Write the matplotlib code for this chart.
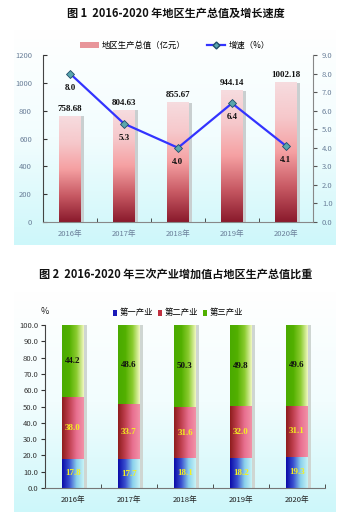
import numpy as np
import matplotlib
matplotlib.use("Agg")
import matplotlib.pyplot as plt
from matplotlib.colors import LinearSegmentedColormap
from matplotlib.patches import Patch, Rectangle
from matplotlib.lines import Line2D

plt.rcParams['font.family'] = ['Noto Sans CJK SC', 'DejaVu Sans']

# ---------------- data ----------------
years = ["2016年", "2017年", "2018年", "2019年", "2020年"]
gdp = [758.68, 804.63, 855.67, 944.14, 1002.18]
growth = [8.0, 5.3, 4.0, 6.4, 4.1]
primary = [17.8, 17.7, 18.1, 18.2, 19.3]
secondary = [38.0, 33.7, 31.6, 32.0, 31.1]
tertiary = [44.2, 48.6, 50.3, 49.8, 49.6]
gdp_ticks = [0, 200, 400, 600, 800, 1000, 1200]
growth_ticks = [0.0, 1.0, 2.0, 3.0, 4.0, 5.0, 6.0, 7.0, 8.0, 9.0]
share_ticks = [0, 10, 20, 30, 40, 50, 60, 70, 80, 90, 100]

W, H = 358, 517
fig = plt.figure(figsize=(W / 100, H / 100), dpi=100)

def fx(px):
    return px / W

def fy(py):
    return 1 - py / H

# ---------- background panels ----------
bg = fig.add_axes([0, 0, 1, 1], zorder=-10)
bg.set_xlim(0, W)
bg.set_ylim(H, 0)
bg.axis('off')
panel_cmap = LinearSegmentedColormap.from_list('panel', ['#ffffff', '#f2fdfe', '#cdf7fa'])
grad = np.linspace(0, 1, 256).reshape(-1, 1)
bg.imshow(grad, cmap=panel_cmap, extent=(14, 336, 245, 30), aspect='auto', zorder=0)
bg.imshow(grad, cmap=panel_cmap, extent=(14, 336, 512, 292), aspect='auto', zorder=0)

num_font = dict(family=['Liberation Serif', 'DejaVu Serif'], fontweight='bold')

# ---------------- chart 1 ----------------
fig.text(fx(176), fy(13), "图 1  2016-2020 年地区生产总值及增长速度",
         ha='center', va='center', fontsize=8, fontweight='bold', color='#111111')

ax1 = fig.add_axes([fx(43), fy(222), fx(270), 167 / H])
ax1.patch.set_alpha(0)
x = np.arange(len(years))
bw = 0.4
bar_cmap = LinearSegmentedColormap.from_list('bar1', ['#8a1a2c', '#c85a64', '#f5a0a2', '#f6c8cb', '#f6dcdf'])
vgrad = np.linspace(1, 0, 256).reshape(-1, 1)
for xi, v in zip(x, gdp):
    ax1.add_patch(Rectangle((xi + bw / 2, 0), 0.05, v, facecolor='#c9cfd0', edgecolor='none', zorder=1))
    ax1.imshow(vgrad, cmap=bar_cmap, extent=(xi - bw / 2, xi + bw / 2, 0, v), aspect='auto', zorder=2)
    ax1.text(xi, v + 25, f"{v:.2f}", ha='center', va='bottom', fontsize=6.5, color='#111111', **num_font)
ax1.set_xlim(-0.5, 4.5)
ax1.set_ylim(0, 1200)
ax1.set_yticks(gdp_ticks)
ax1.set_yticklabels([str(t) for t in gdp_ticks], fontsize=5.5, color='#6a7f99')
ax1.set_xticks(x)
ax1.set_xticklabels(years, fontsize=5.5, color='#6a7f99')
ax1.set_xticks(np.arange(0.5, 4.5, 1), minor=True)
ax1.tick_params(axis='x', which='major', length=0, pad=6)
ax1.tick_params(axis='x', which='minor', length=3, direction='in', color='#333333')
ax1.tick_params(axis='y', length=3, direction='in', color='#333333', pad=8)
for s in ['top', 'right']:
    ax1.spines[s].set_visible(False)
ax1.spines['left'].set_color('#444444')
ax1.spines['bottom'].set_color('#888888')

ax1r = ax1.twinx()
ax1r.set_ylim(0, 9)
ax1r.set_yticks(growth_ticks)
ax1r.set_yticklabels([f"{t:.1f}" for t in growth_ticks], fontsize=5.5, color='#6a7f99')
ax1r.tick_params(axis='y', length=3, direction='out', color='#555555')
for s in ['top', 'left', 'bottom']:
    ax1r.spines[s].set_visible(False)
ax1r.spines['right'].set_color('#888888')
ax1r.plot(x, growth, color='#3333ff', lw=1.6, marker='D', markersize=4,
          markerfacecolor='#5aa6ad', markeredgecolor='#1f4d6a', markeredgewidth=0.6, zorder=5)
for xi, g in zip(x, growth):
    ax1r.text(xi, g - 0.55, f"{g:.1f}", ha='center', va='top', fontsize=6.5, color='#111111', **num_font)
ax1r.set_zorder(ax1.get_zorder() + 1)

h1 = [Patch(facecolor='#e8959a', edgecolor='none'),
      Line2D([0], [0], color='#3333ff', lw=1.6, marker='D', markersize=3.5,
             markerfacecolor='#5aa6ad', markeredgecolor='#1f4d6a')]
fig.legend(h1, ["地区生产总值（亿元）", "增速（%）"], loc='center', bbox_to_anchor=(fx(175), fy(45)),
           ncol=2, frameon=False, fontsize=6, handlelength=2.2, handleheight=0.7,
           columnspacing=2.5, handletextpad=0.4)

# ---------------- chart 2 ----------------
fig.text(fx(176), fy(275), "图 2  2016-2020 年三次产业增加值占地区生产总值比重",
         ha='center', va='center', fontsize=8, fontweight='bold', color='#111111')

ax2 = fig.add_axes([fx(45), fy(488), fx(280), 163 / H])
ax2.patch.set_alpha(0)
bw2 = 0.39
hgrad = np.linspace(0, 1, 256).reshape(1, -1)
cm_p = LinearSegmentedColormap.from_list('p', ['#0a0aa8', '#3a50d0', '#8ad0ec', '#c8f4f6'])
cm_s = LinearSegmentedColormap.from_list('s', ['#8e1c1c', '#c04050', '#e87090', '#f292a8'])
cm_t = LinearSegmentedColormap.from_list('t', ['#4aaa00', '#52b000', '#8ccc30', '#f2f8c2'])
for xi, a, b, c in zip(x, primary, secondary, tertiary):
    ax2.add_patch(Rectangle((xi + bw2 / 2, 0), 0.05, a + b + c, facecolor='#cfd6d2', edgecolor='none', zorder=1))
    ax2.imshow(hgrad, cmap=cm_p, extent=(xi - bw2 / 2, xi + bw2 / 2, 0, a), aspect='auto', zorder=2)
    ax2.imshow(hgrad, cmap=cm_s, extent=(xi - bw2 / 2, xi + bw2 / 2, a, a + b), aspect='auto', zorder=2)
    ax2.imshow(hgrad, cmap=cm_t, extent=(xi - bw2 / 2, xi + bw2 / 2, a + b, a + b + c), aspect='auto', zorder=2)
    ax2.text(xi, a / 2, f"{a:.1f}", ha='center', va='center', fontsize=6.5, color='#f4f020', zorder=3, **num_font)
    ax2.text(xi, a + b / 2, f"{b:.1f}", ha='center', va='center', fontsize=6.5, color='#f4f020', zorder=3, **num_font)
    ax2.text(xi, a + b + c / 2, f"{c:.1f}", ha='center', va='center', fontsize=6.5, color='#111111', zorder=3, **num_font)
ax2.set_xlim(-0.5, 4.5)
ax2.set_ylim(0, 100)
ax2.set_yticks(share_ticks)
ax2.set_yticklabels([f"{t:.1f}" for t in share_ticks], fontsize=5.5, color='#333333')
ax2.set_xticks(x)
ax2.set_xticklabels(years, fontsize=5.5, color='#222222')
ax2.set_xticks(np.arange(0.5, 5.0, 1), minor=True)
ax2.tick_params(axis='x', which='major', length=0, pad=6)
ax2.tick_params(axis='x', which='minor', length=3, direction='in', color='#333333')
ax2.tick_params(axis='y', length=3, direction='out', color='#333333', pad=2)
for s in ['top', 'right']:
    ax2.spines[s].set_visible(False)
ax2.spines['left'].set_color('#444444')
ax2.spines['bottom'].set_color('#777777')

fig.text(fx(45), fy(312), "%", ha='center', va='center', fontsize=6.5, color='#222222')
h2 = [Patch(facecolor='#1a1ab8', edgecolor='none'),
      Patch(facecolor='#c03040', edgecolor='none'),
      Patch(facecolor='#50b000', edgecolor='none')]
fig.legend(h2, ["第一产业", "第二产业", "第三产业"], loc='center', bbox_to_anchor=(fx(178), fy(313)),
           ncol=3, frameon=False, fontsize=6, handlelength=0.5, handleheight=0.7,
           columnspacing=0.6, handletextpad=0.3)

fig.savefig("out.png", dpi=100)
